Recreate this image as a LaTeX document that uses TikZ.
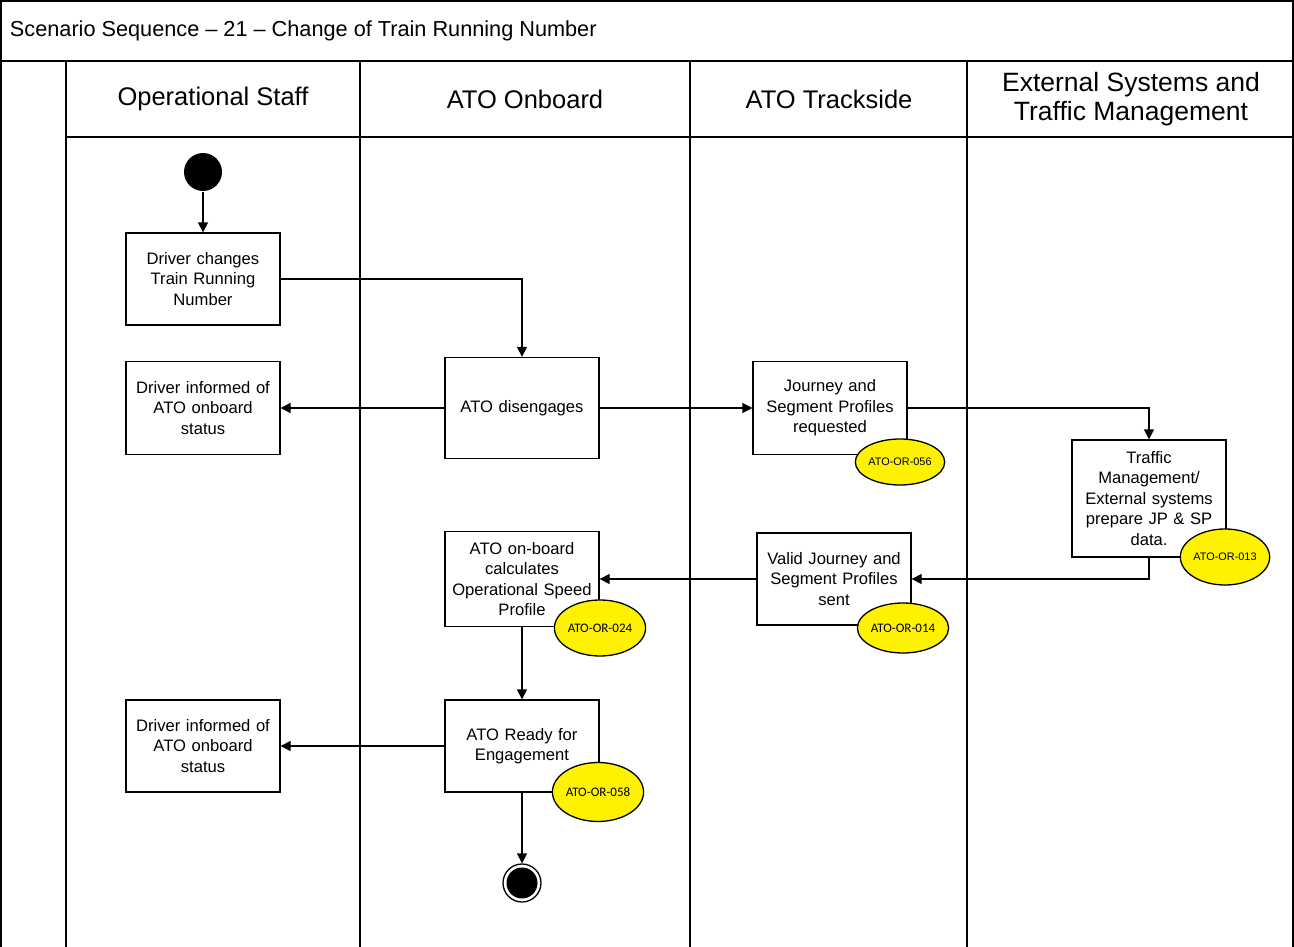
\documentclass[tikz,border=0pt]{standalone}
\usepackage{fontspec}
\setmainfont{Liberation Sans}
\newfontfamily\calfont{Carlito}
\usetikzlibrary{arrows.meta,shapes.geometric}

\begin{document}
\begin{tikzpicture}[x=1pt,y=-1pt,
  line width=1.3pt,
  frameline/.style={line width=1.4pt},
  stepbox/.style={draw, fill=white, minimum width=154pt, minimum height=92pt,
    inner sep=2pt, align=center, text width=150pt,
    font=\fontsize{16.6}{20.5}\selectfont},
  reqtag/.style={ellipse, draw, fill=yellow, inner sep=0pt,
    minimum width=85pt, minimum height=50pt,
    font=\fontsize{10.9}{12}\selectfont},
  reqtagc/.style={reqtag, font=\calfont\fontsize{13}{14}\selectfont},
  flow/.style={-{Triangle[length=10pt,width=10pt]}},
  lanehead/.style={align=center, font=\fontsize{25.5}{29}\selectfont}]

\useasboundingbox (0,0) rectangle (1294,947);

% swimlane frame
\draw[frameline] (1,947) -- (1,1) -- (1293,1) -- (1293,947);
\draw[frameline] (1,61) -- (1293,61);
\draw[frameline] (66,137) -- (1293,137);
\foreach \lx in {66,360,690,967} \draw[frameline] (\lx,61) -- (\lx,947);

\node[anchor=west, font=\fontsize{21.7}{24}\selectfont] (title) at (6,31)
  {Scenario Sequence – 21 – Change of Train Running Number};

\node[lanehead] (h1) at (213,99) {Operational Staff};
\node[lanehead] (h2) at (525,99) {ATO Onboard};
\node[lanehead] (h3) at (829,99) {ATO Trackside};
\node[lanehead, font=\fontsize{26.5}{29}\selectfont] (h4) at (1131,99) {External Systems and\\Traffic Management};

% activities
\node[circle, fill=black, minimum size=38pt, inner sep=0pt] (start) at (203,172) {};
\node[stepbox] (change) at (203,279) {Driver changes\\Train Running\\Number};
\node[stepbox, minimum height=101pt, minimum width=153pt] (diseng) at (522,408) {ATO disengages};
\node[stepbox, minimum height=93pt] (info1) at (203,408) {Driver informed of\\ATO onboard\\status};
\node[stepbox, minimum height=93pt] (jreq) at (830,408) {Journey and\\Segment Profiles\\requested};
\node[stepbox, minimum height=117pt] (tms) at (1149,498.5) {Traffic\\Management/\\External systems\\prepare JP \& SP\\data.};
\node[stepbox] (valid) at (834,579) {Valid Journey and\\Segment Profiles\\sent};
\node[stepbox, minimum height=95pt] (calc) at (522,579) {ATO on-board\\calculates\\Operational Speed\\Profile};
\node[stepbox] (ready) at (522,746) {ATO Ready for\\Engagement};
\node[stepbox] (info2) at (203,746) {Driver informed of\\ATO onboard\\status};
\node[circle, draw, fill=white, minimum size=38pt, inner sep=0pt] (finish) at (522,883) {};
\fill (finish.center) circle (15.5pt);

% flows
\draw[flow] (start) -- (change);
\draw[flow] (change.east) -| (diseng.north);
\draw[flow] (diseng.west) -- (info1.east);
\draw[flow] (diseng.east) -- (jreq.west);
\draw[flow] (jreq.east) -| (tms.north);
\draw[flow] (tms.south) |- (valid.east);
\draw[flow] (valid.west) -- (calc.east);
\draw[flow] (calc.south) -- (ready.north);
\draw[flow] (ready.west) -- (info2.east);
\draw[flow] (ready.south) -- (finish.north);

% requirement tags
\node[reqtag, minimum width=85pt, minimum height=46pt] (r056) at (900,462) {ATO-OR-056};
\node[reqtag, minimum width=84pt, minimum height=56pt] (r013) at (1225,557) {ATO-OR-013};
\node[reqtagc, minimum width=84pt, minimum height=50pt] (r014) at (903,628) {ATO-OR-014};
\node[reqtagc, minimum width=86pt, minimum height=56pt] (r024) at (600,628) {ATO-OR-024};
\node[reqtagc, minimum width=86pt, minimum height=59pt] (r058) at (598,792) {ATO-OR-058};
\end{tikzpicture}
\end{document}
